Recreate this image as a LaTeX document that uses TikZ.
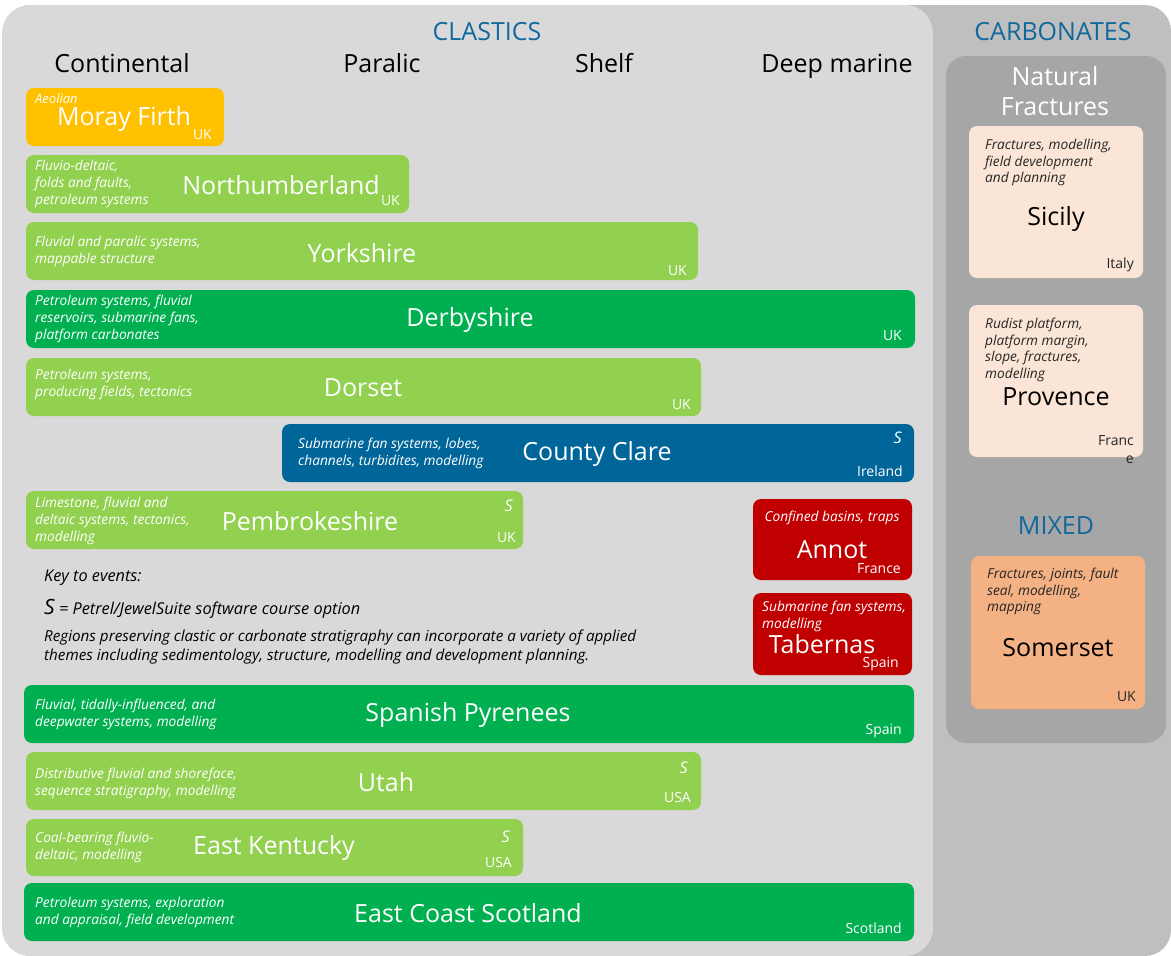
\documentclass[tikz,border=0pt]{standalone}
\usepackage{fontspec}
\setmainfont{Open Sans}
\definecolor{clasticgrey}{RGB}{217,217,217}
\definecolor{carbgrey}{RGB}{191,191,191}
\definecolor{fracgrey}{RGB}{166,166,166}
\definecolor{titleblue}{RGB}{16,104,156}
\definecolor{aeolian}{RGB}{255,192,0}
\definecolor{lightgreen}{RGB}{146,208,80}
\definecolor{darkgreen}{RGB}{0,176,80}
\definecolor{deepblue}{RGB}{0,102,153}
\definecolor{basinred}{RGB}{192,0,0}
\definecolor{peach}{RGB}{251,229,214}
\definecolor{mixorange}{RGB}{244,177,131}
\definecolor{darktext}{RGB}{38,38,38}

\tikzset{
  bar/.style={rounded corners=8pt},
  desc/.style={anchor=west, align=left, inner sep=0pt, text=white,
    font=\fontsize{13.7}{17}\selectfont\itshape},
  place/.style={inner sep=0pt, text=white, font=\fontsize{25}{30}\selectfont},
  country/.style={anchor=east, inner sep=0pt, text=white, font=\fontsize{14}{16}\selectfont},
  soft/.style={anchor=east, inner sep=0pt, text=white, font=\fontsize{16}{18}\selectfont\itshape},
  heading/.style={inner sep=0pt, font=\fontsize{25}{30}\selectfont},
}

\begin{document}
\begin{tikzpicture}[x=1pt, y=-1pt]
  \useasboundingbox (0,0) rectangle (1171,956);
  \fill[white] (0,0) rectangle (1171,956);

  % panels
  \fill[carbgrey, rounded corners=26pt] (880,5) rectangle (1171,956);
  \fill[clasticgrey, rounded corners=28pt] (2,5) rectangle (933,956);
  \fill[fracgrey, rounded corners=20pt] (946,56) rectangle (1166,743);

  \node[heading, text=titleblue] (clastics) at (487,32) {CLASTICS};
  \node[heading, text=titleblue] (carbonates) at (1053,32) {CARBONATES};
  \node[heading, anchor=base] (continental) at (122,72) {Continental};
  \node[heading, anchor=base] (paralic) at (382,72) {Paralic};
  \node[heading, anchor=base] (shelf) at (604,72) {Shelf};
  \node[heading, anchor=base] (deep) at (837,72) {Deep marine};
  \node[heading, text=white, align=center, font=\fontsize{25}{30}\selectfont] (natfrac) at (1055,91) {Natural\\Fractures};
  \node[heading, text=titleblue] (mixed) at (1056,526) {MIXED};

  % Moray Firth
  \fill[bar, aeolian] (26,88) rectangle (224,146);
  \node[desc, anchor=north west, font=\fontsize{13}{15}\selectfont\itshape] (morayd) at (35,93) {Aeolian};
  \node[place] (moray) at (124,119) {Moray Firth};
  \node[country] (morayc) at (212,135) {UK};

  % Northumberland
  \fill[bar, lightgreen] (26,155) rectangle (409,213);
  \node[desc] (northd) at (35,184) {Fluvio-deltaic,\\folds and faults,\\petroleum systems};
  \node[place] (north) at (281,185) {Northumberland};
  \node[country] (northc) at (400,201) {UK};

  % Yorkshire
  \fill[bar, lightgreen] (26,222) rectangle (698,280);
  \node[desc] (yorkd) at (35,251) {Fluvial and paralic systems,\\mappable structure};
  \node[place] (york) at (362,253) {Yorkshire};
  \node[country] (yorkc) at (687,271) {UK};

  % Derbyshire
  \fill[bar, darkgreen] (26,290) rectangle (915,348);
  \node[desc] (derbyd) at (35,319) {Petroleum systems, fluvial\\reservoirs, submarine fans,\\platform carbonates};
  \node[place] (derby) at (470,320) {Derbyshire};
  \node[country] (derbyc) at (902,336) {UK};

  % Dorset
  \fill[bar, lightgreen] (26,358) rectangle (701,416);
  \node[desc] (dorsetd) at (35,384) {Petroleum systems,\\producing fields, tectonics};
  \node[place] (dorset) at (363,388) {Dorset};
  \node[country] (dorsetc) at (691,405) {UK};

  % County Clare
  \fill[bar, deepblue] (282,424) rectangle (914,482);
  \node[desc] (clared) at (298,453) {Submarine fan systems, lobes,\\channels, turbidites, modelling};
  \node[place] (clare) at (597,454) {County Clare};
  \node[soft] (clares) at (902,438) {S};
  \node[country] (clarec) at (903,471) {Ireland};

  % Pembrokeshire
  \fill[bar, lightgreen] (26,491) rectangle (523,549);
  \node[desc] (pembd) at (35,521) {Limestone, fluvial and\\deltaic systems, tectonics,\\modelling};
  \node[place] (pemb) at (310,521) {Pembrokeshire};
  \node[soft] (pembs) at (513,506) {S};
  \node[country] (pembc) at (516,538) {UK};

  % Annot
  \fill[bar, basinred] (753,499) rectangle (912,580);
  \node[desc, anchor=center] (annotd) at (832,518) {Confined basins, traps};
  \node[place] (annot) at (832,550) {Annot};
  \node[country] (annotc) at (901,569) {France};

  % Tabernas
  \fill[bar, basinred] (753,593) rectangle (912,675);
  \node[desc] (taberd) at (762,616) {Submarine fan systems,\\modelling};
  \node[place] (taber) at (822,644) {Tabernas};
  \node[country] (taberc) at (899,664) {Spain};

  % key
  \node[anchor=west, inner sep=0pt, font=\fontsize{16.3}{18}\selectfont\itshape] (keyhead) at (44,578) {Key to events:};
  \node[anchor=west, inner sep=0pt, font=\fontsize{16.3}{18}\selectfont\itshape] (keys) at (44,609) {{\fontsize{21}{21}\selectfont S} = Petrel/JewelSuite software course option};
  \node[anchor=west, align=left, inner sep=0pt, font=\fontsize{15.2}{19}\selectfont\itshape] (keynote) at (44,647) {Regions preserving clastic or carbonate stratigraphy can incorporate a variety of applied\\themes including sedimentology, structure, modelling and development planning.};

  % Spanish Pyrenees
  \fill[bar, darkgreen] (24,685) rectangle (914,743);
  \node[desc] (pyred) at (35,714) {Fluvial, tidally-influenced, and\\deepwater systems, modelling};
  \node[place] (pyre) at (468,715) {Spanish Pyrenees};
  \node[country] (pyrec) at (902,731) {Spain};

  % Utah
  \fill[bar, lightgreen] (26,752) rectangle (701,810);
  \node[desc] (utahd) at (35,783) {Distributive fluvial and shoreface,\\sequence stratigraphy, modelling};
  \node[place] (utah) at (386,782) {Utah};
  \node[soft] (utahs) at (688,768) {S};
  \node[country] (utahc) at (691,797) {USA};

  % East Kentucky
  \fill[bar, lightgreen] (26,819) rectangle (523,876);
  \node[desc] (kentd) at (35,847) {Coal-bearing fluvio-\\deltaic, modelling};
  \node[place] (kent) at (274,848) {East Kentucky};
  \node[soft] (kents) at (510,837) {S};
  \node[country] (kentc) at (512,862) {USA};

  % East Coast Scotland
  \fill[bar, darkgreen] (24,883) rectangle (914,941);
  \node[desc] (scotd) at (35,912) {Petroleum systems, exploration\\and appraisal, field development};
  \node[place] (scot) at (468,913) {East Coast Scotland};
  \node[country] (scotc) at (902,928) {Scotland};

  % Sicily
  \fill[bar, peach] (969,126) rectangle (1143,278);
  \node[desc, anchor=north west, text=darktext, font=\fontsize{13.7}{16.5}\selectfont\itshape] (sicilyd) at (985,139) {Fractures, modelling,\\field development\\and planning};
  \node[place, text=black] (sicily) at (1056,219) {Sicily};
  \node[country, text=darktext] (sicilyc) at (1134,265) {Italy};

  % Provence
  \fill[bar, peach] (969,305) rectangle (1143,457);
  \node[desc, anchor=north west, text=darktext, font=\fontsize{13.7}{16.5}\selectfont\itshape] (provd) at (985,318) {Rudist platform,\\platform margin,\\slope, fractures,\\modelling};
  \node[place, text=black] (prov) at (1056,397) {Provence};
  \node[country, anchor=north east, align=right, text=darktext, font=\fontsize{14}{18}\selectfont] (provc) at (1134,435) {Franc\\e};

  % Somerset
  \fill[bar, mixorange] (971,556) rectangle (1145,709);
  \node[desc, anchor=north west, text=darktext, font=\fontsize{13.7}{16.5}\selectfont\itshape] (somd) at (987,568) {Fractures, joints, fault\\seal, modelling,\\mapping};
  \node[place, text=black] (som) at (1058,648) {Somerset};
  \node[country, text=darktext] (somc) at (1136,697) {UK};
\end{tikzpicture}
\end{document}
